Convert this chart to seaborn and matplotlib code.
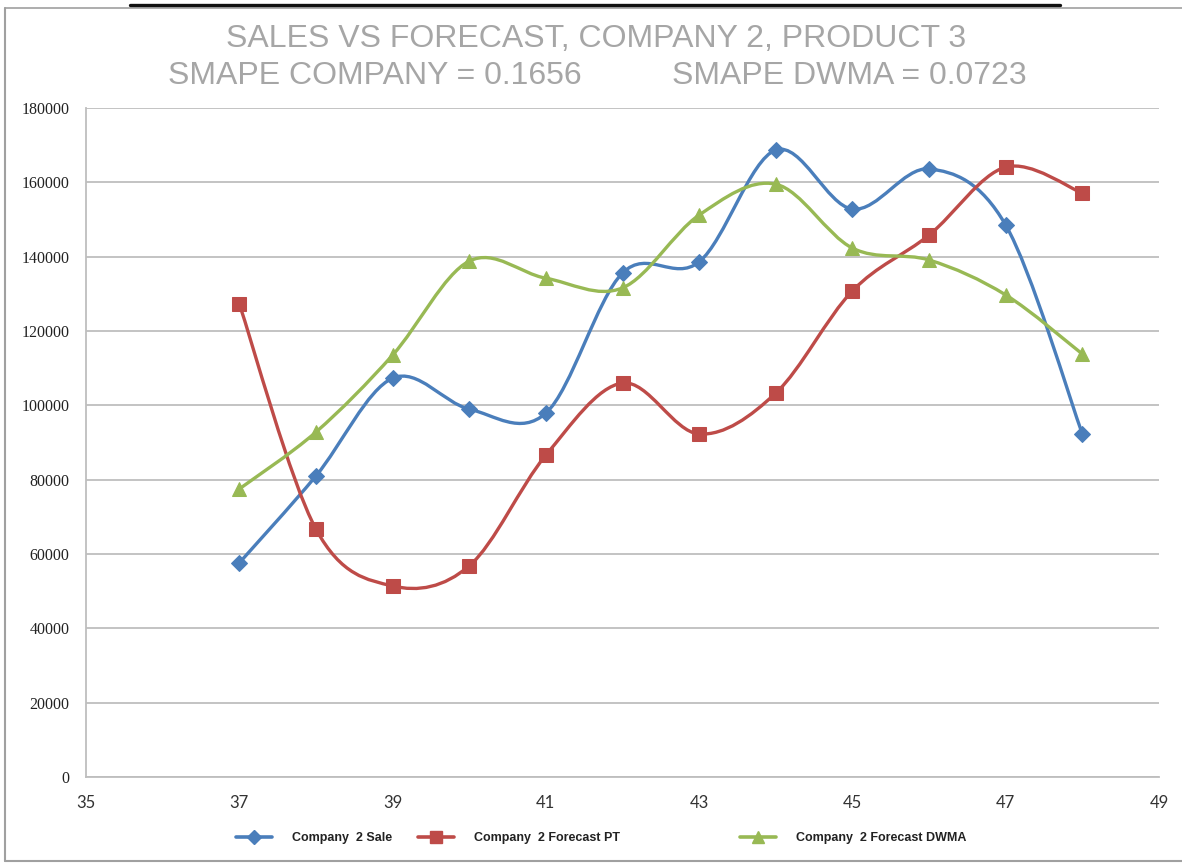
import numpy as np
import pandas as pd
import matplotlib
matplotlib.use("Agg")
import matplotlib.pyplot as plt
from matplotlib.path import Path
from matplotlib.patches import PathPatch
from matplotlib.lines import Line2D
import seaborn as sns

# ---- data -------------------------------------------------------------
weeks = [37, 38, 39, 40, 41, 42, 43, 44, 45, 46, 47, 48]
sale = [57600, 81000, 107300, 99000, 97900, 135600, 138600, 168700, 152800, 163600, 148500, 92300]
forecast_pt = [127300, 66700, 51400, 56800, 86600, 106000, 92300, 103300, 130800, 145800, 164100, 157100]
forecast_dwma = [77500, 92800, 113500, 138800, 134200, 131600, 151200, 159500, 142300, 139100, 129700, 113800]

series_names = ["Company  2 Sale", "Company  2 Forecast PT", "Company  2 Forecast DWMA"]
title_line1 = "SALES VS FORECAST, COMPANY 2, PRODUCT 3"
title_left = "SMAPE COMPANY = 0.1656"
title_right = "SMAPE DWMA = 0.0723"
x_ticks = [35, 37, 39, 41, 43, 45, 47, 49]
y_ticks = [0, 20000, 40000, 60000, 80000, 100000, 120000, 140000, 160000, 180000]

df = pd.DataFrame({
    "week": weeks * 3,
    "value": sale + forecast_pt + forecast_dwma,
    "series": [series_names[0]] * 12 + [series_names[1]] * 12 + [series_names[2]] * 12,
})

colors = ["#4A7EBB", "#BE4B48", "#98B954"]
markers = ["D", "s", "^"]
msizes = [8, 10.5, 10.5]

W, H = 1182, 863
sns.set_theme(style="white")
plt.rcParams["font.family"] = ["Liberation Sans", "DejaVu Sans"]

fig = plt.figure(figsize=(W / 100, H / 100), dpi=100)
ax = fig.add_axes([86 / W, 1 - 777 / H, 1073 / W, 669 / H])


def smooth_path(xs, ys):
    """Excel-style smoothed line: cubic Bezier segments with 1/6 tangent control points."""
    pts = np.column_stack([xs, ys]).astype(float)
    n = len(pts)
    verts = [pts[0]]
    codes = [Path.MOVETO]
    for i in range(n - 1):
        p_prev = pts[i - 1] if i > 0 else pts[i]
        p0, p1 = pts[i], pts[i + 1]
        p_next = pts[i + 2] if i + 2 < n else pts[i + 1]
        c1 = p0 + (p1 - p_prev) / 6.0
        c2 = p1 - (p_next - p0) / 6.0
        verts += [c1, c2, p1]
        codes += [Path.CURVE4] * 3
    return Path(verts, codes)


for name, col, mk, ms in zip(series_names, colors, markers, msizes):
    sub = df[df["series"] == name]
    patch = PathPatch(smooth_path(sub["week"].values, sub["value"].values),
                      facecolor="none", edgecolor=col, lw=2.4,
                      capstyle="round", joinstyle="round", zorder=3)
    ax.add_patch(patch)
    sns.lineplot(data=sub, x="week", y="value", ax=ax, color=col, marker=mk,
                 markersize=ms, markeredgecolor=col, linewidth=0, zorder=4,
                 legend=False)

ax.set_xlim(35, 49)
ax.set_ylim(0, 180000)
ax.set_xticks(x_ticks)
ax.set_yticks(y_ticks)
ax.set_xticklabels([str(v) for v in x_ticks])
ax.set_yticklabels([str(v) for v in y_ticks])
ax.set_xlabel("")
ax.set_ylabel("")

grid_col = "#BEBEBE"
ax.yaxis.grid(True, color=grid_col, lw=1.3)
ax.xaxis.grid(False)
ax.set_axisbelow(True)
for side in ["top", "right"]:
    ax.spines[side].set_visible(False)
for side in ["left", "bottom"]:
    ax.spines[side].set_color(grid_col)
    ax.spines[side].set_linewidth(1.3)

ax.tick_params(axis="x", direction="out", length=5, width=1.2, color=grid_col,
               pad=8, labelsize=12, labelcolor="#333333")
ax.tick_params(axis="y", direction="out", length=5, width=1.2, color=grid_col,
               pad=7, labelsize=11.5, labelcolor="#222222")
for lab in ax.get_xticklabels():
    lab.set_fontfamily("Lato")
for lab in ax.get_yticklabels():
    lab.set_fontfamily("Liberation Serif")

# ---- titles -------------------------------------------------------------
tcol = "#A6A6A6"
fig.text(596 / W, 1 - 47 / H, title_line1, ha="center", va="baseline",
         fontsize=23, color=tcol)
fig.text(168 / W, 1 - 84 / H, title_left, ha="left", va="baseline",
         fontsize=23, color=tcol)
fig.text(672 / W, 1 - 84 / H, title_right, ha="left", va="baseline",
         fontsize=23, color=tcol)

# ---- legend entries ------------------------------------------------------
legend_x = [236, 418, 740]
for name, col, mk, ms, lx in zip(series_names, colors, markers, msizes, legend_x):
    h = Line2D([], [], color=col, lw=2.6, marker=mk, markersize=ms * 0.85,
               markeredgecolor=col)
    fig.legend([h], [name], loc="center left", bbox_to_anchor=(lx / W, 1 - 838 / H),
               frameon=False, borderpad=0, borderaxespad=0, handlelength=2.9,
               handletextpad=1.6, prop={"family": "Liberation Sans", "weight": "bold",
                                        "size": 9}, labelcolor="#222222")

# ---- outer frame -----------------------------------------------------------
frame_col = "#A0A0A0"
fig.add_artist(Line2D([5 / W, 5 / W], [1 - 8 / H, 1 - 861 / H], color=frame_col,
                      lw=1.5, transform=fig.transFigure))
fig.add_artist(Line2D([5 / W, 1.0], [1 - 861 / H, 1 - 861 / H], color=frame_col,
                      lw=1.5, transform=fig.transFigure))
fig.add_artist(Line2D([5 / W, 1.0], [1 - 8 / H, 1 - 8 / H], color=frame_col,
                      lw=1.2, transform=fig.transFigure))
fig.add_artist(Line2D([130 / W, 1060 / W], [1 - 5 / H, 1 - 5 / H], color="#111111",
                      lw=2.4, transform=fig.transFigure))

fig.savefig("out.png", dpi=100, facecolor="white")
